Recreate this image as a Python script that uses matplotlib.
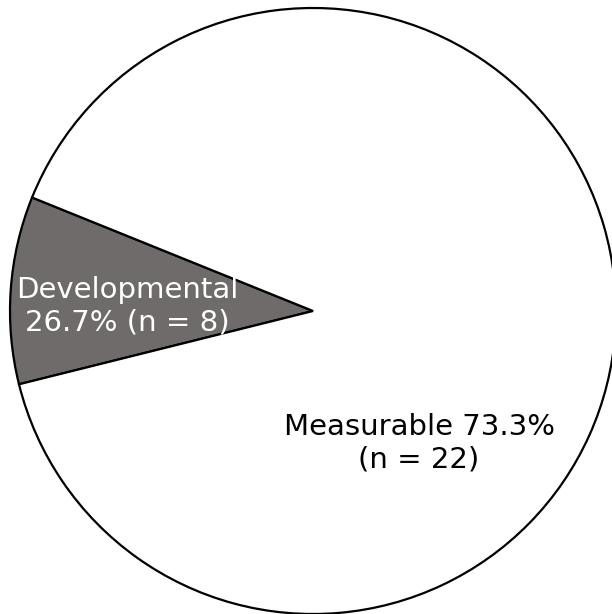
import matplotlib
matplotlib.use('Agg')
import matplotlib.pyplot as plt

# wedge sizes as drawn in the picture (labels carry the reported figures)
categories = ['Developmental', 'Measurable']
sizes = [10, 90]
labels = ['Developmental\n26.7% (n = 8)', 'Measurable 73.3%\n(n = 22)']
colors = ['#6f6b6b', '#ffffff']
text_colors = ['white', 'black']

fig = plt.figure(figsize=(6.12, 6.14), dpi=100)
ax = fig.add_axes([0, 0, 1, 1])

ax.pie(sizes, colors=colors, startangle=158, center=(313, 303), radius=303,
       wedgeprops=dict(edgecolor='black', linewidth=1.6), frame=True)
ax.set_xlim(0, 612)
ax.set_ylim(0, 614)
ax.axis('off')

label_pos = [(127, 308), (419, 171)]
for (x, y), txt, tc in zip(label_pos, labels, text_colors):
    ax.text(x, y, txt, ha='center', va='center', color=tc, fontsize=21,
            family='DejaVu Sans', linespacing=1.2)

fig.savefig('out.png', dpi=100)
